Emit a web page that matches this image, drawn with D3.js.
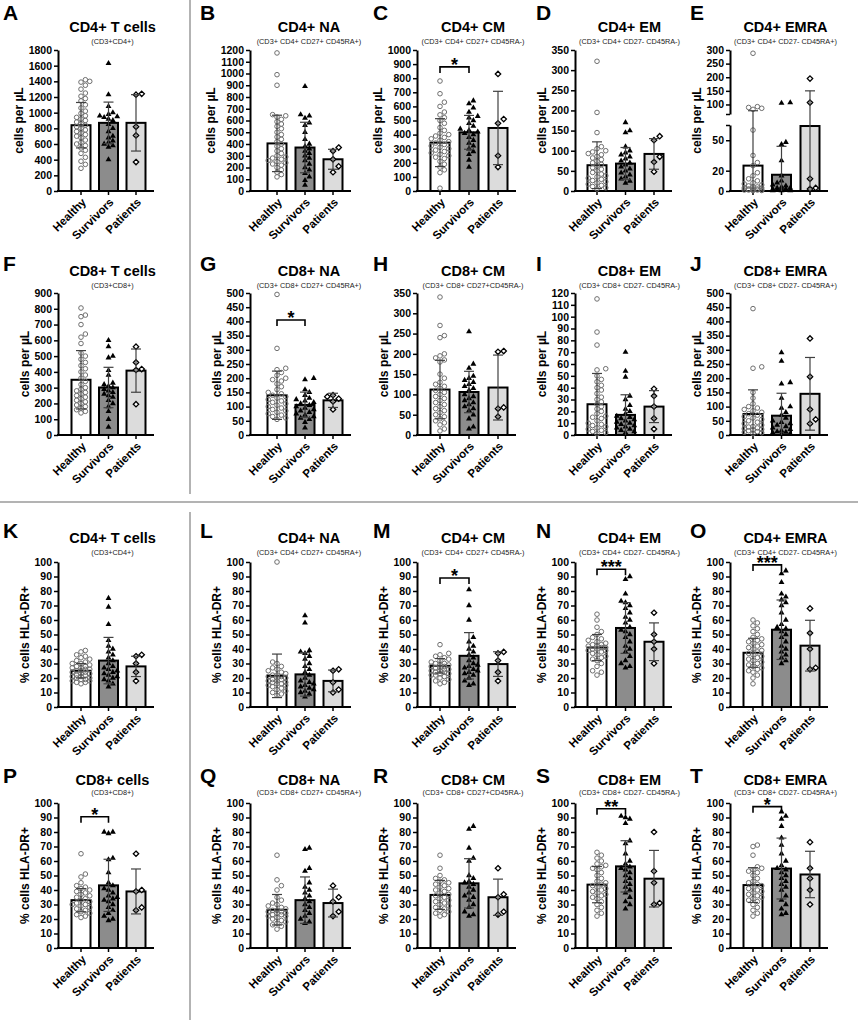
<!DOCTYPE html>
<html>
<head>
<meta charset="utf-8">
<script src="https://cdn.jsdelivr.net/npm/d3@7"></script>
<style>
  body { margin: 0; background: #fff; }
  text { font-family: "Liberation Sans", Arial, sans-serif; }
</style>
</head>
<body>
<svg width="858" height="1022"></svg>
<script>
// ---- data ----
const groups = ['Healthy', 'Survivors', 'Patients'];
const panelLetters = 'ABCDEFGHIJKLMNOPQRST'.split('');
const panelTitles = [
  'CD4+ T cells', 'CD4+ NA', 'CD4+ CM', 'CD4+ EM', 'CD4+ EMRA',
  'CD8+ T cells', 'CD8+ NA', 'CD8+ CM', 'CD8+ EM', 'CD8+ EMRA',
  'CD4+ T cells', 'CD4+ NA', 'CD4+ CM', 'CD4+ EM', 'CD4+ EMRA',
  'CD8+ cells', 'CD8+ NA', 'CD8+ CM', 'CD8+ EM', 'CD8+ EMRA'
];
const panelSubtitles = [
  '(CD3+CD4+)', '(CD3+ CD4+ CD27+ CD45RA+)', '(CD3+ CD4+ CD27+ CD45RA-)', '(CD3+ CD4+ CD27- CD45RA-)', '(CD3+ CD4+ CD27-  CD45RA+)',
  '(CD3+CD8+)', '(CD3+ CD8+ CD27+ CD45RA+)', '(CD3+ CD8+ CD27+CD45RA-)', '(CD3+ CD8+ CD27- CD45RA-)', '(CD3+ CD8+ CD27-  CD45RA+)',
  '(CD3+CD4+)', '(CD3+ CD4+ CD27+ CD45RA+)', '(CD3+ CD4+ CD27+ CD45RA-)', '(CD3+ CD4+ CD27- CD45RA-)', '(CD3+ CD4+ CD27-  CD45RA+)',
  '(CD3+CD8+)', '(CD3+ CD8+ CD27+ CD45RA+)', '(CD3+ CD8+ CD27+CD45RA-)', '(CD3+ CD8+ CD27- CD45RA-)', '(CD3+ CD8+ CD27-  CD45RA+)'
];
const yLabels = ['cells per \u00b5L', 'cells per \u00b5L', '% cells HLA-DR+', '% cells HLA-DR+'];
const yMax = [1800, 1200, 1000, 350, 300, 900, 500, 350, 120, 500,
  100, 100, 100, 100, 100, 100, 100, 100, 100, 100];
const yStep = [200, 100, 100, 50, 50, 100, 50, 50, 10, 50,
  10, 10, 10, 10, 10, 10, 10, 10, 10, 10];
// panel E uses a broken axis
const breakAt = 65;
const breakTicksLow = [0, 20, 50];
const breakTicksHigh = [100, 150, 200, 250, 300];

const means = [
  [840, 870, 870], [405, 370, 270], [343, 416, 447], [64, 68, 92], [25, 16, 64],
  [350, 301, 408], [140, 106, 122], [112, 106, 117], [26, 17, 24], [74, 68, 145],
  [25, 32, 28], [21.5, 22.5, 18], [28.4, 35.3, 29.6], [41, 54.5, 45], [37.4, 53.3, 42.3],
  [33, 43.2, 39], [26.4, 33, 31], [36.6, 44.6, 35], [43.7, 56.3, 47.8], [43.4, 54.8, 50.7]
];
const sds = [
  [290, 265, 360], [240, 215, 85], [170, 120, 260], [58, 40, 38], [52, 28, 86],
  [185, 128, 137], [85, 45, 25], [72, 51, 80], [26, 17, 13.5], [85, 79, 128],
  [5, 16, 7], [15, 15, 7.5], [5, 16, 8.5], [9, 17.5, 13], [10, 20.5, 17.5],
  [8, 18, 15.5], [10.5, 16, 9.6], [10, 17, 12.5], [12.5, 17.7, 19.5], [12, 21, 16]
];

const healthyPts = [
  [1420,1400,1390,1350,1300,1250,1210,1180,1150,1100,1060,1020,990,960,940,920,900,880,860,840,820,800,780,760,740,720,700,680,650,620,600,580,550,520,480,430,380,340,290],
  [1175,990,900,650,640,630,610,590,570,550,530,500,480,460,440,420,400,380,360,340,320,300,290,280,270,260,250,240,230,220,200,180,160,140,120],
  [780,690,630,600,560,540,520,500,480,450,430,410,400,390,380,370,360,350,340,330,320,310,300,290,280,270,260,250,240,230,210,190,170,150,130,20],
  [322,195,145,110,105,100,97,93,90,86,82,78,74,70,66,62,58,54,50,46,42,38,35,32,29,26,23,20,17,14,11,8,5],
  [288,92,89,86,82,60,35,28,25,18,15,12,10,8,7,6,5,4,4,3,3,2,2,2,1,1,1,1,1,0.5,0.5],
  [805,760,750,700,640,620,580,520,500,480,460,440,420,400,380,360,340,320,300,290,280,270,260,250,240,230,220,210,200,190,180,170,160,150,140],
  [495,305,235,230,220,210,200,195,190,180,170,160,150,145,140,135,130,125,120,115,110,105,100,95,90,85,80,75,70,65,60,55],
  [340,270,245,240,200,195,190,185,180,150,140,130,125,120,115,110,105,100,95,90,85,80,75,70,65,60,55,50,45,40,35,30,25,15,10],
  [115,87,76,56,55,50,47,45,42,40,38,35,32,30,28,26,24,22,20,18,16,15,14,12,10,9,8,7,6,5,4,3,2,1],
  [445,240,235,150,130,110,100,95,90,85,80,75,70,65,60,55,50,45,40,35,30,28,25,22,20,18,15,12,10,8,5],
  [39,38,36,35,34,33,32,31,30,30,29,28,28,27,27,26,26,25,25,24,24,23,23,22,22,21,21,20,20,19,19,18,18,17,17,16],
  [100,31,30,28,27,26,25,24,23,22,22,21,21,20,20,19,19,18,18,17,17,16,16,15,15,14,13,12,11,10,9,8],
  [43,37,36,35,34,33,32,31,30,30,29,29,28,28,27,27,26,26,25,25,24,24,23,23,22,22,21,20,19,18,17,16],
  [64,60,55,52,50,48,47,46,45,44,43,43,42,42,41,41,40,40,39,39,38,37,36,35,34,33,32,30,28,25,24,22],
  [60,58,56,54,52,50,48,47,46,45,44,43,42,41,40,39,38,37,36,35,34,33,32,31,30,29,28,27,26,25,24,22,20,16],
  [65,51,49,45,43,42,41,40,39,38,37,36,35,34,33,32,31,30,30,29,28,27,26,25,24,23,22,21],
  [64,47,43,40,35,33,31,30,29,28,27,26,26,25,25,24,24,23,23,22,22,21,20,19,18,17,16,15,13],
  [64,55,50,48,47,46,45,44,43,42,41,40,39,38,37,36,35,34,33,32,31,30,29,28,27,26,25,24,23,22],
  [66,64,62,60,58,57,56,55,54,52,50,48,46,45,44,43,42,41,40,39,38,37,36,35,34,32,30,28,26,24,22],
  [71,70,64,56,55,54,53,52,50,48,46,45,44,43,42,41,40,39,38,37,36,35,34,33,32,30,28,26,24,22]
];
const survivorPts = [
  [1630,1230,1080,1000,980,960,950,940,920,900,850,800,760,700,680,640,620,600,580,560,400],
  [890,650,640,620,580,560,500,440,400,380,360,340,320,300,280,260,230,200,180,150,120,90,50],
  [640,620,590,560,530,520,500,480,460,440,430,420,410,400,380,360,340,320,300,280,260,220,170],
  [170,150,145,110,100,95,90,85,80,75,70,65,60,55,50,45,40,35,30,25,20],
  [107,105,48,46,30,15,10,8,6,5,4,3,3,2,2,2,1,1,1,1,0.5,0.5,0.5],
  [600,560,500,490,410,380,330,320,310,300,290,280,270,260,250,240,220,200,180,150,100,50],
  [200,195,160,150,140,130,125,120,115,110,105,100,95,90,85,80,75,70,65,60,55,45,25],
  [255,175,165,145,140,135,130,125,120,115,110,100,95,90,85,80,75,70,65,60,50,40,20,15],
  [70,54,49,33,30,25,22,20,18,16,15,14,13,12,11,10,9,8,7,6,5,4,3,2],
  [290,260,185,180,130,100,95,80,70,60,50,45,40,35,30,25,20,15,12,10,8,5,3],
  [75,69,57,46,42,40,38,36,34,32,30,28,27,26,25,24,23,22,21,20,19,18,16,14],
  [63,58,39,38,37,35,33,30,28,26,24,22,20,18,17,16,15,14,13,12,11,10,9,7],
  [81,70,60,48,45,42,40,38,36,34,32,30,29,28,27,26,25,24,23,22,20,18,16,15],
  [90,88,78,73,72,70,68,65,62,60,58,55,53,52,50,48,45,42,40,38,35,32,30,28,27],
  [94,92,86,78,76,74,72,70,65,60,57,55,54,52,50,48,45,42,40,38,36,34,32,30],
  [80,80,79,62,61,52,45,43,41,40,38,36,35,34,33,32,30,28,26,24,22,20,19],
  [69,68,55,53,45,42,40,38,36,34,32,30,28,26,24,22,20,18,17],
  [84,82,69,62,60,50,48,46,45,44,42,40,38,36,35,33,30,28,25,23,22],
  [91,90,89,86,74,72,65,60,58,56,55,54,52,50,48,46,44,42,40,38,35,32,30,27],
  [94,91,89,84,76,71,65,60,57,55,54,52,50,48,46,44,42,40,36,33,30,27,24,23]
];
const patientPts = [
  [1240,1230,820,710,370], [370,340,270,210,160], [830,510,480,250,170], [136,126,85,72,48], [195,107,12,3,2],
  [560,460,418,412,195], [140,135,128,118,90], [207,205,68,65,45], [39,33,24,14,5], [340,205,90,55,40],
  [36,35,30,24,18], [26,25,17,12,10], [38,37,32,24,18], [65,50,45,40,30], [68,51,40,27,26],
  [65,40,39,28,26], [43,35,32,25,22], [55,37,35,25,23], [80,53,45,31,30], [73,55,48,40,30]
];
// significance brackets: panel index, bracket height (data units), label
const sigPanels = [2, 6, 12, 13, 14, 15, 18, 19];
const sigHeights = [880, 405, 89, 95, 98, 90.5, 96, 97.5];
const sigLabels = ['*', '*', '*', '***', '***', '*', '**', '*'];

// ---- layout ----
const svg = d3.select('svg');
const colAxisX = [58, 250, 417, 575, 730];
const colBars = [[81, 136], [277, 333], [440, 498], [597, 654], [753, 810]];
const letterX = [3, 200, 373, 536, 690];
const rows = [
  { letter: 20, title: 32, sub: 44, top: 50, bottom: 191 },
  { letter: 271, title: 276, sub: 288, top: 293, bottom: 435 },
  { letter: 538, title: 543, sub: 555, top: 562, bottom: 707 },
  { letter: 783, title: 785, sub: 795, top: 803, bottom: 948 }
];
const fills = ['#ffffff', '#8c8c8c', '#dcdcdc'];
const barW = 19;

// dividers
const divider = (x1, y1, x2, y2) => svg.append('line')
  .attr('x1', x1).attr('y1', y1).attr('x2', x2).attr('y2', y2)
  .attr('stroke', '#9a9a9a').attr('stroke-width', 1.5);
divider(190, 0, 190, 494);
divider(0, 502, 858, 502);
divider(190, 512, 190, 1020);

// deterministic beeswarm offsets
function swarm(vals, yFn, r, maxOff) {
  const pts = vals.map(v => ({ v, y: yFn(v), dx: 0 })).sort((a, b) => b.y - a.y);
  const placed = [];
  const d = r * 2;
  pts.forEach(p => {
    let best = 0, bestDist = -1;
    for (let k = 0; k < 14; k++) {
      const off = k === 0 ? 0 : (k % 2 ? 1 : -1) * Math.ceil(k / 2) * d * 0.95;
      if (Math.abs(off) > maxOff) continue;
      let minD = Infinity;
      placed.forEach(q => {
        const dd = Math.hypot(q.dx - off, q.y - p.y);
        if (dd < minD) minD = dd;
      });
      if (minD >= d) { best = off; bestDist = Infinity; break; }
      if (minD > bestDist) { bestDist = minD; best = off; }
    }
    p.dx = best;
    placed.push(p);
  });
  return pts;
}

const triangle = d3.symbol().type(d3.symbolTriangle).size(15)();
const diamond = 'M0,-2.7L2.7,0L0,2.7L-2.7,0Z';

panelLetters.forEach((letter, i) => {
  const row = Math.floor(i / 5), col = i % 5;
  const R = rows[row];
  const ax = colAxisX[col];
  const g = svg.append('g');

  const x = d3.scalePoint().domain(groups).range(colBars[col]);
  let y;
  let axisNodes = [];
  if (letter === 'E') {
    const yLow = d3.scaleLinear().domain([0, breakAt]).range([R.bottom, R.bottom - 66]);
    const yHigh = d3.scaleLinear().domain([breakAt, yMax[i]]).range([R.bottom - 77, R.top]);
    y = v => v <= breakAt ? yLow(v) : yHigh(v);
    [[yLow, breakTicksLow], [yHigh, breakTicksHigh]].forEach(([s, tv]) => {
      const a = g.append('g').attr('transform', `translate(${ax},0)`)
        .call(d3.axisLeft(s).tickValues(tv.concat([breakAt]))
          .tickFormat(v => v === breakAt ? '' : d3.format('d')(v)).tickSize(4).tickSizeOuter(0).tickPadding(2));
      axisNodes.push(a);
    });
  } else {
    const ys = d3.scaleLinear().domain([0, yMax[i]]).range([R.bottom, R.top]);
    y = ys;
    const a = g.append('g').attr('transform', `translate(${ax},0)`)
      .call(d3.axisLeft(ys).tickValues(d3.range(0, yMax[i] + 0.001, yStep[i]))
        .tickFormat(d3.format('d')).tickSize(4).tickSizeOuter(0).tickPadding(2));
    axisNodes.push(a);
  }
  let maxW = 0;
  axisNodes.forEach(a => {
    a.select('.domain').attr('stroke-width', 2);
    a.selectAll('.tick line').attr('stroke-width', 1.5);
    a.selectAll('.tick text').attr('font-size', 10.5).attr('font-weight', 'bold')
      .attr('font-family', '"Liberation Sans", Arial, sans-serif').attr('fill', '#000')
      .each(function () { maxW = Math.max(maxW, this.getBBox().width); });
  });

  // y axis label
  g.append('text')
    .attr('transform', `translate(${ax - 6 - maxW - 5},${(R.top + R.bottom) / 2}) rotate(-90)`)
    .attr('text-anchor', 'middle').attr('font-size', 12).attr('font-weight', 'bold')
    .text(yLabels[row]);

  // x axis
  const xEnd = colBars[col][1] + 18;
  g.append('line').attr('x1', ax - 1).attr('x2', xEnd).attr('y1', R.bottom).attr('y2', R.bottom)
    .attr('stroke', '#000').attr('stroke-width', 2);
  groups.forEach(grp => {
    g.append('line').attr('x1', x(grp)).attr('x2', x(grp))
      .attr('y1', R.bottom).attr('y2', R.bottom + 4).attr('stroke', '#000').attr('stroke-width', 1.5);
    g.append('text')
      .attr('transform', `translate(${x(grp) + 3},${R.bottom + 9}) rotate(-45)`)
      .attr('text-anchor', 'end').attr('dy', '0.35em')
      .attr('font-size', 11.5).attr('font-weight', 'bold').text(grp);
  });

  // bars
  g.selectAll('rect.bar').data(groups).join('rect').attr('class', 'bar')
    .attr('x', d => x(d) - barW / 2).attr('width', barW)
    .attr('y', (d, j) => y(means[i][j]))
    .attr('height', (d, j) => R.bottom - y(means[i][j]))
    .attr('fill', (d, j) => fills[j]).attr('stroke', '#000').attr('stroke-width', 2);

  // points
  const sets = [healthyPts[i], survivorPts[i], patientPts[i]];
  sets.forEach((vals, j) => {
    const cx = x(groups[j]);
    const pts = swarm(vals, y, j === 2 ? 3 : 2.3, j === 2 ? 7 : 9);
    pts.forEach(p => {
      if (j === 0) {
        g.append('circle').attr('cx', cx + p.dx).attr('cy', p.y).attr('r', 2.3)
          .attr('fill', 'none').attr('stroke', '#6f6f6f').attr('stroke-width', 1);
      } else if (j === 1) {
        g.append('path').attr('d', triangle).attr('transform', `translate(${cx + p.dx},${p.y})`)
          .attr('fill', '#000');
      } else {
        g.append('path').attr('d', diamond).attr('transform', `translate(${cx + p.dx},${p.y})`)
          .attr('fill', '#fff').attr('stroke', '#000').attr('stroke-width', 1.3);
      }
    });
  });

  // error bars
  groups.forEach((grp, j) => {
    const cx = x(grp);
    const hi = means[i][j] + sds[i][j];
    const lo = Math.max(0, means[i][j] - sds[i][j]);
    const col2 = '#404040';
    g.append('line').attr('x1', cx).attr('x2', cx).attr('y1', y(lo)).attr('y2', y(hi))
      .attr('stroke', col2).attr('stroke-width', 1.2);
    g.append('line').attr('x1', cx - 5).attr('x2', cx + 5).attr('y1', y(hi)).attr('y2', y(hi))
      .attr('stroke', col2).attr('stroke-width', 1.2);
    if (lo > 0) {
      g.append('line').attr('x1', cx - 5).attr('x2', cx + 5).attr('y1', y(lo)).attr('y2', y(lo))
        .attr('stroke', col2).attr('stroke-width', 1.2);
    }
  });

  // significance
  const si = sigPanels.indexOf(i);
  if (si >= 0) {
    const by = y(sigHeights[si]);
    const x1 = x(groups[0]), x2 = x(groups[1]);
    g.append('path').attr('d', `M${x1},${by + 6}V${by}H${x2}V${by + 6}`)
      .attr('fill', 'none').attr('stroke', '#000').attr('stroke-width', 1.6);
    g.append('text').attr('x', (x1 + x2) / 2).attr('y', by + 4)
      .attr('text-anchor', 'middle').attr('font-size', 18).attr('font-weight', 'bold')
      .text(sigLabels[si]);
  }

  // titles
  const mid = (colBars[col][0] + colBars[col][1]) / 2 + 4;
  g.append('text').attr('x', letterX[col]).attr('y', R.letter)
    .attr('font-size', 21).attr('font-weight', 'bold').text(letter);
  g.append('text').attr('x', mid).attr('y', R.title).attr('text-anchor', 'middle')
    .attr('font-size', 14.5).attr('font-weight', 'bold').text(panelTitles[i]);
  g.append('text').attr('x', mid).attr('y', R.sub).attr('text-anchor', 'middle')
    .attr('font-size', 7.3).attr('fill', '#222').text(panelSubtitles[i]);
});
</script>
</body>
</html>
